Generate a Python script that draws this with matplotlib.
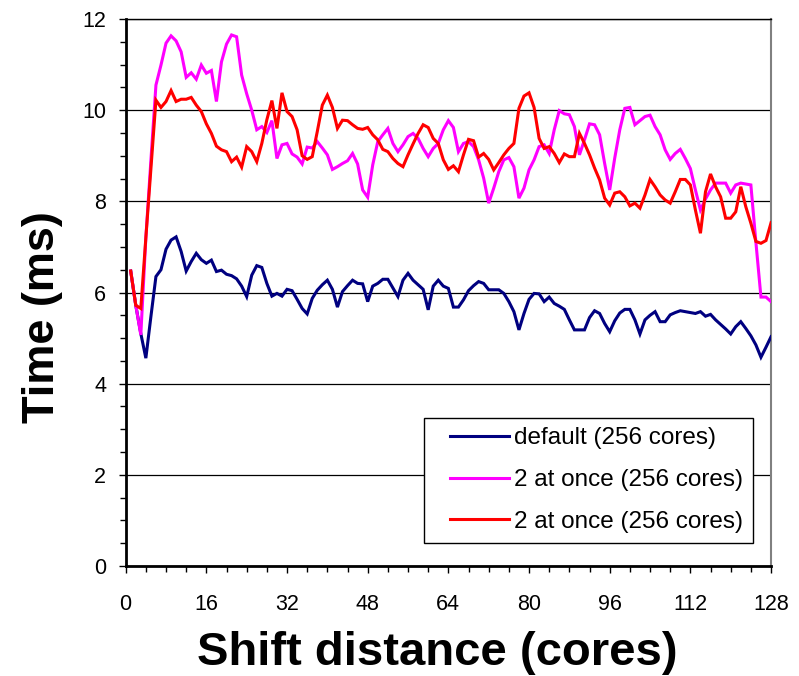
import matplotlib
matplotlib.use("Agg")
import matplotlib.pyplot as plt
from matplotlib.patches import Rectangle
from matplotlib.ticker import MultipleLocator

plt.rcParams['font.family'] = ['Liberation Sans', 'DejaVu Sans']

shift = list(range(1, 129))

default_256 = [
    6.47, 5.72, 5.10, 4.56, 5.47, 6.35, 6.50, 6.95, 7.15, 7.22,
    6.90, 6.47, 6.68, 6.86, 6.72, 6.64, 6.71, 6.46, 6.49, 6.40,
    6.37, 6.30, 6.14, 5.91, 6.38, 6.59, 6.55, 6.20, 5.92, 5.98,
    5.92, 6.07, 6.04, 5.85, 5.65, 5.53, 5.87, 6.05, 6.17, 6.27,
    6.07, 5.68, 6.02, 6.15, 6.27, 6.20, 6.19, 5.80, 6.14, 6.20,
    6.29, 6.29, 6.10, 5.91, 6.27, 6.42, 6.27, 6.17, 6.07, 5.62,
    6.14, 6.27, 6.14, 6.09, 5.68, 5.68, 5.84, 6.04, 6.15, 6.24,
    6.20, 6.06, 6.06, 6.06, 5.98, 5.80, 5.58, 5.18, 5.54, 5.85,
    5.98, 5.97, 5.80, 5.90, 5.76, 5.70, 5.63, 5.40, 5.18, 5.18,
    5.18, 5.45, 5.60, 5.54, 5.32, 5.14, 5.38, 5.55, 5.63, 5.63,
    5.40, 5.09, 5.40, 5.50, 5.58, 5.36, 5.36, 5.51, 5.56, 5.60,
    5.58, 5.56, 5.54, 5.58, 5.48, 5.52, 5.40, 5.30, 5.20, 5.09,
    5.25, 5.36, 5.21, 5.05, 4.85, 4.58, 4.80, 5.03,
]

two_at_once_a = [
    6.47, 5.72, 5.07, 7.20, 8.90, 10.55, 10.99, 11.47, 11.63, 11.52,
    11.28, 10.72, 10.82, 10.68, 10.99, 10.81, 10.87, 10.19, 11.06, 11.45,
    11.65, 11.61, 10.77, 10.36, 10.00, 9.57, 9.64, 9.51, 9.77, 8.94,
    9.24, 9.27, 9.04, 8.97, 8.82, 9.19, 9.17, 9.31, 9.17, 9.02,
    8.70, 8.76, 8.83, 8.89, 9.05, 8.82, 8.25, 8.09, 8.80, 9.31,
    9.46, 9.60, 9.27, 9.09, 9.24, 9.42, 9.49, 9.38, 9.16, 8.98,
    9.16, 9.27, 9.57, 9.77, 9.62, 9.09, 9.27, 9.31, 9.20, 8.91,
    8.51, 7.96, 8.29, 8.65, 8.91, 8.96, 8.76, 8.07, 8.29, 8.69,
    8.91, 9.20, 9.24, 9.05, 9.57, 9.99, 9.92, 9.90, 9.64, 9.02,
    9.35, 9.70, 9.68, 9.46, 8.83, 8.25, 8.95, 9.57, 10.04, 10.06,
    9.68, 9.77, 9.86, 9.89, 9.64, 9.46, 9.13, 8.92, 9.05, 9.14,
    8.94, 8.72, 8.25, 7.81, 8.05, 8.25, 8.40, 8.40, 8.40, 8.18,
    8.36, 8.40, 8.38, 8.36, 7.10, 5.90, 5.90, 5.80,
]

two_at_once_b = [
    6.47, 5.72, 5.65, 7.20, 8.70, 10.22, 10.06, 10.19, 10.43, 10.19,
    10.24, 10.24, 10.28, 10.11, 9.97, 9.70, 9.49, 9.21, 9.13, 9.09,
    8.87, 8.97, 8.75, 9.20, 9.09, 8.87, 9.27, 9.79, 10.21, 9.60,
    10.38, 9.97, 9.86, 9.57, 9.00, 8.92, 8.98, 9.53, 10.11, 10.33,
    10.06, 9.60, 9.78, 9.77, 9.68, 9.60, 9.58, 9.62, 9.46, 9.35,
    9.14, 9.09, 8.94, 8.83, 8.76, 9.02, 9.26, 9.49, 9.68, 9.62,
    9.38, 9.27, 8.91, 8.70, 8.78, 8.65, 9.02, 9.36, 9.33, 8.97,
    9.05, 8.92, 8.69, 8.85, 9.02, 9.16, 9.27, 10.04, 10.31, 10.38,
    10.06, 9.38, 9.16, 9.20, 9.05, 8.85, 9.04, 8.98, 8.98, 9.49,
    9.27, 9.02, 8.73, 8.47, 8.07, 7.92, 8.18, 8.21, 8.10, 7.90,
    7.96, 7.85, 8.14, 8.48, 8.32, 8.14, 8.03, 7.96, 8.21, 8.48,
    8.48, 8.36, 7.81, 7.30, 8.21, 8.60, 8.32, 8.10, 7.63, 7.63,
    7.77, 8.32, 7.88, 7.52, 7.12, 7.08, 7.14, 7.53,
]

series_labels = ["default (256 cores)", "2 at once (256 cores)", "2 at once (256 cores)"]
series_colors = ["#000080", "#FF00FF", "#FF0000"]

fig = plt.figure(figsize=(7.99, 6.76), dpi=100)
ax = fig.add_axes([0.1573, 0.1627, 0.8077, 0.8092])

for ys, lab, col in zip([default_256, two_at_once_a, two_at_once_b], series_labels, series_colors):
    ax.plot(shift, ys, color=col, lw=2.2, label=lab, solid_joinstyle='miter', zorder=3)

ax.set_xlim(0, 128)
ax.set_ylim(0, 12)
ax.xaxis.set_major_locator(MultipleLocator(16))
ax.xaxis.set_minor_locator(MultipleLocator(4))
ax.yaxis.set_major_locator(MultipleLocator(2))
ax.yaxis.set_minor_locator(MultipleLocator(0.5))

ax.yaxis.grid(True, which='major', color='black', lw=0.9, zorder=1)
ax.set_axisbelow(True)

ax.tick_params(axis='both', which='both', direction='out', color='black', width=1.0)
ax.tick_params(axis='x', which='major', length=5, pad=15, labelsize=15.5)
ax.tick_params(axis='x', which='minor', length=4)
ax.tick_params(axis='y', which='major', length=5, pad=9, labelsize=15.5)
ax.tick_params(axis='y', which='minor', length=4)

ax.spines['left'].set_linewidth(2.0)
ax.spines['bottom'].set_linewidth(2.0)
ax.spines['top'].set_linewidth(1.0)
ax.spines['top'].set_color('black')
ax.spines['right'].set_linewidth(1.5)
ax.spines['right'].set_color('#808080')

ax.set_xlabel("Shift distance (cores)", fontsize=34, fontweight='bold')
ax.set_ylabel("Time (ms)", fontsize=32.5, fontweight='bold')
ax.xaxis.set_label_coords(0.483, -0.119)
ax.yaxis.set_label_coords(-0.097, 0.455)

# legend box: white panel with thin black border, entries placed inside
ax.add_patch(Rectangle((0.4623, 0.042), 0.5098, 0.2286, transform=ax.transAxes,
                       facecolor='white', edgecolor='black', lw=1.0, zorder=4))
leg = ax.legend(loc='lower right', bbox_to_anchor=(0.972, 0.042), fontsize=17.5,
                frameon=False, handlelength=2.43, handletextpad=0.2,
                labelspacing=0.81, borderpad=0.42, borderaxespad=0)
leg.set_zorder(5)
for line in leg.get_lines():
    line.set_linewidth(2.2)

fig.savefig("out.png", dpi=100)
